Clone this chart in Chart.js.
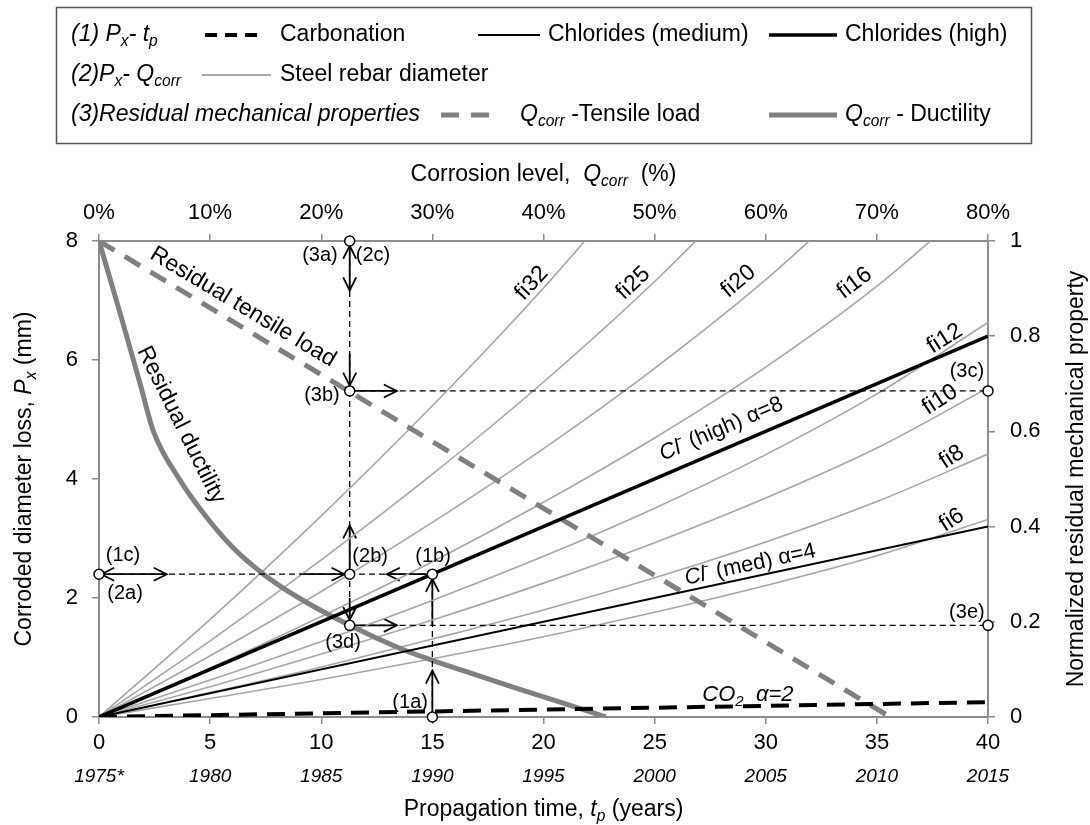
<!DOCTYPE html>
<html>
<head>
<meta charset="utf-8">
<script src="https://cdn.jsdelivr.net/npm/chart.js@4.4.0/dist/chart.umd.min.js"></script>
<style>
  body { margin: 0; background: #fff; }
  canvas { display: block; }
</style>
</head>
<body>
<canvas id="chart" width="1090" height="825"></canvas>
<script>
const FONT = "'Liberation Sans', Arial, sans-serif";

// propagation time ticks (years) and the calendar years printed under them
const timeTicks = [0, 5, 10, 15, 20, 25, 30, 35, 40];
const yearLabels = ['1975*', '1980', '1985', '1990', '1995', '2000', '2005', '2010', '2015'];

// diameter loss Px (mm) against propagation time tp (years)
const carbT = [0, 40];   const carbP = [0, 0.25];
const clMedT = [0, 40];  const clMedP = [0, 3.2];
const clHighT = [0, 40]; const clHighP = [0, 6.4];

// diameter loss Px (mm) against corrosion level Qcorr (%) for each bar size
const qcorrSteps = [0, 10, 20, 30, 40, 50, 60, 70, 80];
const fi6  = [0, 0.31, 0.63, 0.98, 1.35, 1.76, 2.21, 2.71, 3.32];
const fi8  = [0, 0.41, 0.84, 1.31, 1.80, 2.34, 2.94, 3.62, 4.42];
const fi10 = [0, 0.51, 1.06, 1.63, 2.25, 2.93, 3.68, 4.52, 5.53];
const fi12 = [0, 0.62, 1.27, 1.96, 2.70, 3.51, 4.41, 5.43, 6.63];
const fi16 = [0, 0.82, 1.69, 2.61, 3.61, 4.69, 5.88, 7.24, 8.85];
const fi20 = [0, 1.03, 2.11, 3.27, 4.51, 5.86, 7.35, 9.05];
const fi25 = [0, 1.28, 2.64, 4.08, 5.63, 7.32, 9.19];
const fi32 = [0, 1.64, 3.38, 5.23, 7.21, 9.37];
const rebarCurves = [fi6, fi8, fi10, fi12, fi16, fi20, fi25, fi32];

// curve names, where they sit (tp, Px) and their tilt in degrees
const rebarNames = ['fi6', 'fi8', 'fi10', 'fi12', 'fi16', 'fi20', 'fi25', 'fi32'];
const rebarNameT = [38.37, 38.37, 37.84, 38.06, 34.0, 28.77, 24.04, 19.47];
const rebarNameP = [3.31, 4.37, 5.33, 6.36, 7.29, 7.32, 7.29, 7.29];
const rebarNameRot = [-33, -33, -33, -32, -37, -40, -43, -47];

// normalized residual properties against tp
const tensileT = [0, 35.6]; const tensileV = [1, 0];
const ductT = [0, 1.0, 1.85, 2.45, 3.65, 4.7, 6.0, 7.4, 9.0, 11.3, 13.5, 15.0, 17.0, 18.8, 20.5, 22.8];
const ductV = [1, 0.84, 0.70, 0.60, 0.497, 0.428, 0.357, 0.30, 0.25, 0.192, 0.145, 0.119, 0.088, 0.06, 0.035, 0];

// worked example: circled points (tp, Px)
const markT = [0, 11.28, 15, 15, 11.28, 11.28, 11.28, 40, 40];
const markP = [2.4, 2.4, 2.4, 0, 8, 5.48, 1.54, 5.48, 1.54];

// point tags (tp, Px)
const tagText = ['(1a)', '(1b)', '(1c)', '(2a)', '(2b)', '(2c)', '(3a)', '(3b)', '(3c)', '(3d)', '(3e)'];
const tagT = [14.0, 15.03, 1.08, 1.17, 12.2, 12.33, 9.94, 10.03, 39.05, 10.98, 39.05];
const tagP = [0.25, 2.69, 2.72, 2.08, 2.69, 7.76, 7.76, 5.41, 5.8, 1.26, 1.76];

// dashed guide lines [t1, P1, t2, P2]
const guides = [[0, 2.4, 15, 2.4], [11.28, 8, 11.28, 1.54], [11.28, 5.48, 40, 5.48], [11.28, 1.54, 40, 1.54], [15, 0, 15, 2.4]];

// arrows [t1, P1, t2, P2, head at start, head at end]
const arrows = [
  [0.1, 2.4, 3.05, 2.4, 1, 1],
  [9.05, 2.4, 11.05, 2.4, 0, 1],
  [15, 2.4, 12.95, 2.4, 0, 1],
  [11.28, 2.45, 11.28, 3.22, 0, 1],
  [11.28, 2.0, 11.28, 1.63, 0, 1],
  [11.28, 7.92, 11.28, 7.17, 1, 1],
  [11.28, 6.1, 11.28, 5.57, 0, 1],
  [11.28, 5.48, 13.4, 5.48, 0, 1],
  [11.28, 1.54, 13.4, 1.54, 0, 1],
  [15, 0.05, 15, 0.78, 0, 1],
  [15, 1.54, 15, 2.32, 0, 1]
];

const axisGray = '#8c8c8c';
const pts = (xs, ys) => xs.map((v, i) => ({ x: v, y: ys[i] }));

let datasets = [];
datasets.push({
  data: pts(markT, markP), xAxisID: 'x', yAxisID: 'y', showLine: false,
  pointRadius: 5, pointBackgroundColor: '#fff', pointBorderColor: '#000', pointBorderWidth: 1.5,
  clip: false, order: 0
});
guides.forEach(g => {
  datasets.push({
    data: [{ x: g[0], y: g[1] }, { x: g[2], y: g[3] }], xAxisID: 'x', yAxisID: 'y',
    borderColor: '#000', borderWidth: 1.3, borderDash: [6, 4], pointRadius: 0, order: 1
  });
});
datasets.push({ data: pts(clHighT, clHighP), xAxisID: 'x', yAxisID: 'y', borderColor: '#000', borderWidth: 3.5, pointRadius: 0, order: 2 });
datasets.push({ data: pts(clMedT, clMedP), xAxisID: 'x', yAxisID: 'y', borderColor: '#000', borderWidth: 2, pointRadius: 0, order: 2 });
datasets.push({ data: pts(carbT, carbP), xAxisID: 'x', yAxisID: 'y', borderColor: '#000', borderWidth: 4, borderDash: [18, 10], pointRadius: 0, order: 2 });
datasets.push({ data: pts(tensileT, tensileV), xAxisID: 'x', yAxisID: 'y2', borderColor: '#808080', borderWidth: 5, borderDash: [18, 12], pointRadius: 0, order: 3 });
datasets.push({ data: pts(ductT, ductV), xAxisID: 'x', yAxisID: 'y2', borderColor: '#808080', borderWidth: 5, pointRadius: 0, cubicInterpolationMode: 'monotone', order: 3 });
rebarCurves.forEach(c => {
  datasets.push({
    data: pts(qcorrSteps.slice(0, c.length), c), xAxisID: 'x2', yAxisID: 'y',
    borderColor: '#a6a6a6', borderWidth: 1.6, pointRadius: 0, cubicInterpolationMode: 'monotone', order: 4
  });
});

// text made of runs: '' plain, 'i' italic, 's' subscript, 'p' superscript (combinable)
function runFont(style, size) {
  let fs = (style.includes('s') || style.includes('p')) ? size * 0.68 : size;
  return (style.includes('i') ? 'italic ' : '') + fs.toFixed(1) + 'px ' + FONT;
}
function drawRich(ctx, parts, x, y, size, align, angleDeg) {
  ctx.save();
  ctx.translate(x, y);
  if (angleDeg) ctx.rotate(angleDeg * Math.PI / 180);
  ctx.textBaseline = 'middle';
  ctx.textAlign = 'left';
  ctx.fillStyle = '#000';
  let total = 0;
  parts.forEach(p => { ctx.font = runFont(p[1], size); total += ctx.measureText(p[0]).width; });
  let cx = align === 'center' ? -total / 2 : 0;
  parts.forEach(p => {
    ctx.font = runFont(p[1], size);
    let dy = p[1].includes('s') ? size * 0.3 : (p[1].includes('p') ? -size * 0.35 : 0);
    ctx.fillText(p[0], cx, dy);
    cx += ctx.measureText(p[0]).width;
  });
  ctx.restore();
}

function arrowHead(ctx, x, y, ang) {
  const L = 13, W = 6.5;
  const c = Math.cos(ang), s = Math.sin(ang);
  ctx.beginPath();
  ctx.moveTo(x - L * c + W * s, y - L * s - W * c);
  ctx.lineTo(x, y);
  ctx.lineTo(x - L * c - W * s, y - L * s + W * c);
  ctx.stroke();
}

function sampleLine(ctx, x1, x2, y, color, width, dash) {
  ctx.save();
  ctx.strokeStyle = color;
  ctx.lineWidth = width;
  ctx.setLineDash(dash || []);
  ctx.beginPath();
  ctx.moveTo(x1, y);
  ctx.lineTo(x2, y);
  ctx.stroke();
  ctx.restore();
}

const overlay = {
  id: 'overlay',
  beforeDatasetsDraw(chart) {
    const ctx = chart.ctx, sx = chart.scales.x, sy = chart.scales.y;
    ctx.save();
    ctx.strokeStyle = '#000';
    ctx.lineWidth = 1.8;
    arrows.forEach(a => {
      let x1 = sx.getPixelForValue(a[0]), y1 = sy.getPixelForValue(a[1]);
      let x2 = sx.getPixelForValue(a[2]), y2 = sy.getPixelForValue(a[3]);
      ctx.beginPath();
      ctx.moveTo(x1, y1);
      ctx.lineTo(x2, y2);
      ctx.stroke();
      let ang = Math.atan2(y2 - y1, x2 - x1);
      if (a[5]) arrowHead(ctx, x2, y2, ang);
      if (a[4]) arrowHead(ctx, x1, y1, ang + Math.PI);
    });
    ctx.restore();
  },
  afterDraw(chart) {
    const ctx = chart.ctx, sx = chart.scales.x, sy = chart.scales.y;
    const area = chart.chartArea;

    // legend box
    ctx.save();
    ctx.strokeStyle = '#555';
    ctx.lineWidth = 1.5;
    ctx.strokeRect(56.5, 7.5, 975, 136);
    ctx.restore();
    drawRich(ctx, [['(1) ', 'i'], ['P', 'i'], ['x', 'is'], ['-', 'i'], [' t', 'i'], ['p', 'is']], 71, 35, 23, 'left');
    sampleLine(ctx, 205, 257, 35, '#000', 4, [12, 8]);
    drawRich(ctx, [['Carbonation', '']], 280, 35, 23, 'left');
    sampleLine(ctx, 478, 540, 35, '#000', 2);
    drawRich(ctx, [['Chlorides (medium)', '']], 548, 35, 23, 'left');
    sampleLine(ctx, 769, 837, 35, '#000', 3.5);
    drawRich(ctx, [['Chlorides (high)', '']], 845, 35, 23, 'left');
    drawRich(ctx, [['(2)', 'i'], ['P', 'i'], ['x', 'is'], ['- ', 'i'], ['Q', 'i'], ['corr', 'is']], 71, 75, 23, 'left');
    sampleLine(ctx, 202, 271, 75, '#a6a6a6', 2);
    drawRich(ctx, [['Steel rebar diameter', '']], 280, 75, 23, 'left');
    drawRich(ctx, [['(3)Residual mechanical properties', 'i']], 71, 115, 23, 'left');
    sampleLine(ctx, 441, 490, 115, '#808080', 5, [18, 12]);
    drawRich(ctx, [['Q', 'i'], ['corr', 'is'], [' -Tensile load', '']], 520, 115, 23, 'left');
    sampleLine(ctx, 769, 837, 115, '#808080', 5);
    drawRich(ctx, [['Q', 'i'], ['corr', 'is'], [' - Ductility', '']], 845, 115, 23, 'left');

    // axis titles
    const midX = (area.left + area.right) / 2, midY = (area.top + area.bottom) / 2;
    drawRich(ctx, [['Corrosion level,  ', ''], ['Q', 'i'], ['corr', 'is'], ['  (%)', '']], midX, 175, 23, 'center');
    drawRich(ctx, [['Propagation time, ', ''], ['t', 'i'], ['p', 'is'], [' (years)', '']], midX, 810, 23, 'center');
    drawRich(ctx, [['Corroded diameter loss, ', ''], ['P', 'i'], ['x', 'is'], [' (mm)', '']], 25, midY, 23, 'center', -90);
    drawRich(ctx, [['Normalized residual mechanical property', '']], 1077, midY, 23, 'center', -90);

    // calendar years under the time ticks
    timeTicks.forEach((t, i) => {
      drawRich(ctx, [[yearLabels[i], 'i']], sx.getPixelForValue(t), 777, 19, 'center');
    });

    // curve labels
    rebarNames.forEach((n, i) => {
      drawRich(ctx, [[n, '']], sx.getPixelForValue(rebarNameT[i]), sy.getPixelForValue(rebarNameP[i]), 23, 'center', rebarNameRot[i]);
    });
    drawRich(ctx, [['Residual tensile load', '']], sx.getPixelForValue(6.48), sy.getPixelForValue(6.89), 23, 'center', 31);
    drawRich(ctx, [['Residual ductility', '']], sx.getPixelForValue(3.69), sy.getPixelForValue(4.91), 23, 'center', 63.6);
    drawRich(ctx, [['Cl', 'i'], ['-', 'p'], [' (high) \u03b1=8', '']], sx.getPixelForValue(28.0), sy.getPixelForValue(4.84), 22, 'center', -23.2);
    drawRich(ctx, [['Cl', 'i'], ['-', 'p'], [' (med) \u03b1=4', '']], sx.getPixelForValue(29.3), sy.getPixelForValue(2.56), 22, 'center', -12.1);
    drawRich(ctx, [['CO', 'i'], ['2', 'is'], ['  \u03b1=2', 'i']], sx.getPixelForValue(29.2), sy.getPixelForValue(0.37), 22, 'center', 0);

    // point tags
    tagText.forEach((t, i) => {
      drawRich(ctx, [[t, '']], sx.getPixelForValue(tagT[i]), sy.getPixelForValue(tagP[i]), 20, 'center');
    });
  }
};

function scaleOpts(pos, min, max, step, pad, size) {
  return {
    type: 'linear', position: pos, min: min, max: max,
    grid: { drawOnChartArea: false, drawTicks: true, tickLength: 7, color: axisGray, lineWidth: 1.5 },
    border: { color: axisGray, width: 2 },
    ticks: { stepSize: step, padding: pad, color: '#000', maxRotation: 0, autoSkip: false, font: { family: FONT, size: 22 } },
    afterFit: s => { if (pos === 'left' || pos === 'right') s.width = size; else s.height = size; }
  };
}

const xTop = scaleOpts('top', 0, 80, 10, 8, 241);
xTop.ticks.callback = v => v + '%';
const yRight = scaleOpts('right', 0, 1, 0.2, 15, 102);
yRight.ticks.callback = v => String(+v.toFixed(1));

new Chart(document.getElementById('chart'), {
  type: 'line',
  data: { datasets: datasets },
  options: {
    responsive: false,
    devicePixelRatio: 1,
    animation: false,
    layout: { padding: 0 },
    plugins: { legend: { display: false }, tooltip: { enabled: false } },
    scales: {
      x: scaleOpts('bottom', 0, 40, 5, 6, 108),
      x2: xTop,
      y: scaleOpts('left', 0, 8, 2, 14, 99),
      y2: yRight
    }
  },
  plugins: [overlay]
});
</script>
</body>
</html>
